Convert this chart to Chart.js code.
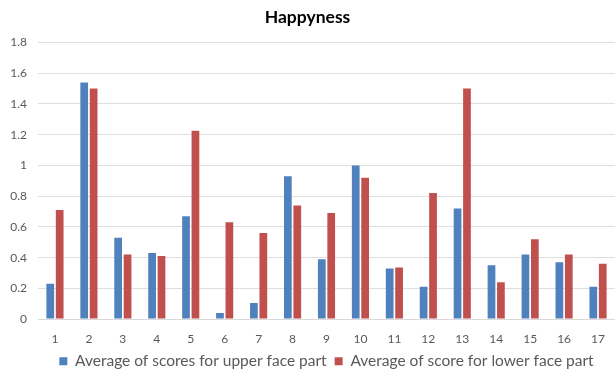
<!DOCTYPE html>
<html>
<head>
<meta charset="utf-8">
<script src="https://cdn.jsdelivr.net/npm/chart.js@4/dist/chart.umd.min.js"></script>
<style>
  html, body { margin: 0; padding: 0; background: #ffffff; }
  #wrap { width: 615px; height: 369px; }
</style>
</head>
<body>
<div id="wrap"><canvas id="c" width="615" height="369"></canvas></div>
<script>
// Happiness scores per subject, upper vs lower face part
const categories = ['1','2','3','4','5','6','7','8','9','10','11','12','13','14','15','16','17'];
const upperScores = [0.23, 1.54, 0.53, 0.43, 0.67, 0.04, 0.105, 0.93, 0.39, 1.0, 0.33, 0.21, 0.72, 0.35, 0.42, 0.37, 0.21];
const lowerScores = [0.71, 1.50, 0.42, 0.41, 1.225, 0.63, 0.56, 0.74, 0.69, 0.92, 0.335, 0.82, 1.50, 0.24, 0.52, 0.42, 0.36];
const seriesNames = ['Average of scores for upper face part', 'Average of score for lower face part'];
const yTicks = { min: 0, max: 1.8, step: 0.2 };

const textColor = '#595959';
const fontFamily = "Lato, 'Open Sans', sans-serif";

new Chart(document.getElementById('c'), {
  type: 'bar',
  data: {
    labels: categories,
    datasets: [
      { label: seriesNames[0], data: upperScores, backgroundColor: '#4F81BD',
        categoryPercentage: 0.555, barPercentage: 0.82 },
      { label: seriesNames[1], data: lowerScores, backgroundColor: '#C0504D',
        categoryPercentage: 0.555, barPercentage: 0.82 }
    ]
  },
  options: {
    responsive: false,
    animation: false,
    // the legend row sits tight against the bottom edge
    layout: { padding: { left: 0, right: 0, top: 0, bottom: -10 } },
    plugins: {
      title: {
        display: true,
        text: 'Happyness',
        color: '#000000',
        font: { family: fontFamily, size: 17.5, weight: 'bold' },
        padding: { top: 6.5, bottom: 15 }
      },
      legend: {
        position: 'bottom',
        fullSize: false,
        labels: {
          color: textColor,
          font: { family: fontFamily, size: 15.5 },
          boxWidth: 8, boxHeight: 8,
          padding: 8
        }
      },
      tooltip: { enabled: false }
    },
    scales: {
      x: {
        afterFit: (scale) => { scale.height -= 6; },
        grid: { display: false },
        border: { display: true, color: '#d9d9d9' },
        ticks: { color: textColor, font: { family: fontFamily, size: 12 }, padding: 5 }
      },
      y: {
        min: yTicks.min,
        max: yTicks.max,
        afterFit: (scale) => { scale.width = 38; },
        grid: { color: '#dedede', drawTicks: false },
        border: { display: false },
        ticks: {
          stepSize: yTicks.step,
          color: textColor,
          padding: 11,
          font: { family: fontFamily, size: 12 },
          callback: (v) => String(Math.round(v * 10) / 10)
        }
      }
    }
  }
});
</script>
</body>
</html>
